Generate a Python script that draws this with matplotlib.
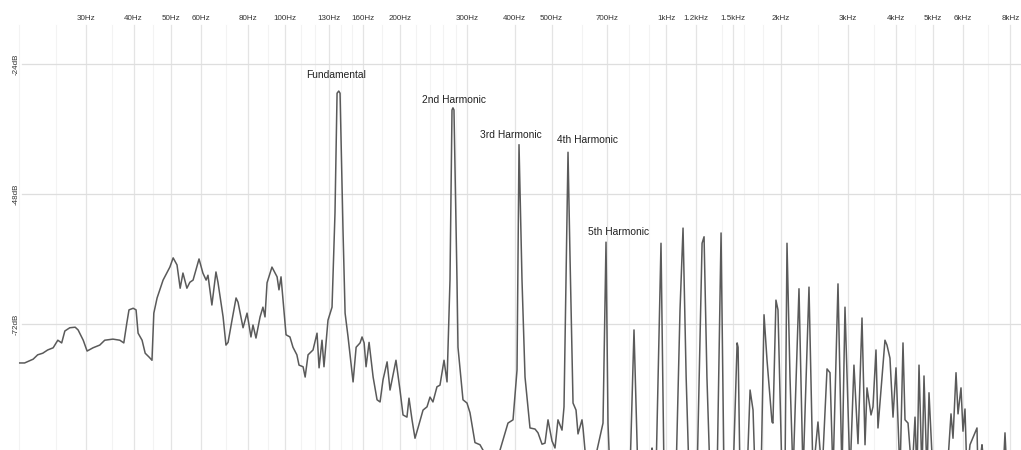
import matplotlib
matplotlib.use('Agg')
import matplotlib.pyplot as plt
from matplotlib.ticker import NullLocator

plt.rcParams['font.family'] = ['Liberation Sans', 'DejaVu Sans']

# spectrum: frequency (Hz) and level (dB)
spectrum_hz = [20.1, 20.7, 21.8, 22.4, 23.1, 23.8, 24.6, 25.3, 25.9, 26.4,
               27.2, 28.1, 28.6, 29.5, 30.2, 31.3, 32.6, 33.6, 35.3, 36.8,
               37.7, 38.4, 38.9, 39.9, 40.6, 41.1, 42.1, 42.9, 43.9, 44.7,
               45.2, 46.1, 47.8, 49.8, 50.8, 52.0, 53.0, 53.9, 55.2, 56.2,
               57.3, 59.4, 60.8, 62.0, 62.7, 64.2, 65.8, 66.6, 68.7, 69.9,
               70.8, 72.5, 74.3, 75.2, 77.5, 79.4, 81.3, 82.3, 83.8, 85.9,
               87.4, 88.5, 89.6, 92.3, 95.2, 96.3, 97.5, 100.5, 102.9, 104.8,
               107.3, 108.7, 111.4, 112.8, 114.8, 118.3, 121.2, 122.7, 124.9, 126.4,
               129.5, 132.7, 135.1, 136.8, 138.2, 139.3, 141.8, 143.6, 146.2, 150.7,
               153.5, 157.2, 159.1, 161.1, 163.0, 166.0, 170.1, 174.2, 177.4, 180.6,
               185.1, 188.4, 195.3, 200.1, 203.8, 208.7, 211.3, 215.2, 219.1, 223.1,
               230.0, 235.6, 239.9, 244.2, 250.2, 254.8, 261.1, 265.9, 270.7, 274.0,
               275.6, 277.3, 282.4, 284.1, 292.8, 300.0, 305.5, 314.8, 324.5, 330.5,
               345, 366.2, 384.3, 396.2, 405.9, 410.8, 418.3, 426.0, 439.0, 452.5,
               460.8, 472.1, 480.7, 489.5, 501.4, 510.6, 519.9, 532.7, 539.2, 552.4,
               559.1, 569.4, 579.8, 586.8, 601.1, 604.8, 612.1, 635, 658.2, 682.5,
               695.0, 703.4, 712.0, 803, 823.1, 843, 900, 918, 940, 969.0,
               987, 1061, 1087, 1107, 1128, 1148, 1205, 1242, 1257, 1279,
               1303, 1360, 1393, 1418, 1498, 1535, 1544, 1562, 1630, 1660,
               1690, 1711, 1774, 1806, 1839, 1895, 1906, 1941, 1965, 2013,
               2050, 2075, 2113, 2152, 2231, 2286, 2370, 2428, 2502, 2564,
               2643, 2691, 2740, 2824, 2893, 2946, 3037, 3110, 3187, 3265,
               3325, 3365, 3448, 3489, 3553, 3596, 3751, 3797, 3866, 3938,
               4010, 4108, 4183, 4234, 4312, 4417, 4498, 4552, 4608, 4692,
               4749, 4836, 4895, 5014, 5458, 5591, 5659, 5763, 5833, 5939,
               6011, 6084, 6158, 6271, 6542, 6582, 6743, 6866, 7655, 7748,
               7842, 8600]
spectrum_db = [-79.2, -79.2, -78.5, -77.7, -77.4, -76.8, -76.4, -75.0, -75.5, -73.3,
               -72.7, -72.6, -73.1, -75.0, -77.0, -76.4, -75.9, -75.0, -74.8, -75.0,
               -75.5, -71.8, -69.4, -69.1, -69.4, -73.7, -75.0, -77.4, -78.1, -78.7,
               -70.0, -67.2, -63.9, -61.5, -59.8, -61.1, -65.4, -62.6, -65.4, -64.3,
               -63.9, -60.0, -62.6, -63.9, -63.0, -68.5, -62.4, -64.3, -70.7, -75.9,
               -75.4, -71.3, -67.2, -68.0, -72.7, -70.0, -74.4, -72.2, -74.6, -70.7,
               -68.9, -70.7, -64.4, -61.5, -63.3, -65.7, -63.3, -74.0, -74.4, -76.3,
               -77.7, -79.6, -79.9, -81.8, -77.7, -76.8, -73.7, -80.1, -75.0, -79.9,
               -71.3, -68.9, -51.5, -29.4, -29.0, -29.4, -54.7, -70.0, -74.4, -82.7,
               -76.3, -75.5, -74.4, -75.5, -79.9, -75.4, -81.8, -86.0, -86.4, -82.3,
               -79.0, -84.2, -78.7, -84.2, -88.8, -89.2, -85.7, -89.7, -93.1, -91.2,
               -87.9, -87.3, -85.5, -86.4, -83.6, -83.3, -78.7, -82.7, -63.9, -32.5,
               -32.1, -32.5, -63.9, -76.3, -86.0, -86.6, -88.4, -93.9, -94.3, -95.3,
               -100, -95.3, -90.3, -89.7, -80.5, -38.9, -63.9, -81.8, -91.2, -91.4,
               -92.1, -94.2, -94.0, -89.7, -93.6, -94.9, -89.7, -91.6, -87.3, -40.3,
               -59.6, -86.6, -87.9, -92.3, -89.7, -91.2, -95.3, -100, -95.3, -90.3,
               -56.9, -90.3, -100, -100, -73.1, -100, -100, -94.9, -100, -57.1,
               -100, -100, -69.4, -54.3, -81.8, -100, -100, -57.1, -55.9, -81.8,
               -100, -100, -55.2, -100, -100, -75.5, -76.3, -100, -100, -84.2,
               -87.9, -100, -100, -70.3, -78.7, -90.1, -90.3, -67.6, -69.4, -100,
               -100, -57.1, -81.8, -100, -65.5, -100, -65.2, -100, -90.1, -100,
               -80.3, -81.0, -100, -64.6, -100, -68.9, -100, -79.6, -94.1, -70.9,
               -94.3, -83.8, -88.8, -87.3, -76.8, -91.2, -75.0, -75.9, -78.3, -89.2,
               -80.1, -100, -75.5, -89.7, -90.3, -100, -89.2, -100, -79.6, -100,
               -81.6, -100, -84.7, -100, -100, -88.6, -93.1, -81.0, -88.6, -83.8,
               -91.8, -87.7, -100, -94.3, -91.2, -100, -94.3, -100, -100, -92.1,
               -100, -100]

tick_hz = [30, 40, 50, 60, 80, 100, 130, 160, 200, 300, 400, 500, 700,
           1000, 1200, 1500, 2000, 3000, 4000, 5000, 6000, 8000]
tick_labels = ['30Hz', '40Hz', '50Hz', '60Hz', '80Hz', '100Hz', '130Hz', '160Hz',
               '200Hz', '300Hz', '400Hz', '500Hz', '700Hz', '1kHz', '1.2kHz',
               '1.5kHz', '2kHz', '3kHz', '4kHz', '5kHz', '6kHz', '8kHz']
minor_hz = [20, 25, 35, 45, 70, 90, 110, 120, 140, 150, 180, 220, 240, 260, 280,
            600, 800, 900, 1400, 1600, 1800, 2500, 3500, 4500, 7000]
db_ticks = [-24, -48, -72]
db_labels = ['-24dB', '-48dB', '-72dB']

label_text = ['Fundamental', '2nd Harmonic', '3rd Harmonic', '4th Harmonic', '5th Harmonic']
label_hz = [136, 277, 391, 623, 752]
label_db = [-26.0, -30.6, -37.1, -38.0, -55.0]

fig = plt.figure(figsize=(10.21, 4.5), dpi=100)
ax = fig.add_axes([0, 0, 1, 1])
ax.set_xscale('log')
ax.set_xlim(17.84, 8535)
ax.set_ylim(-95.27, -12.19)
for s in ax.spines.values():
    s.set_visible(False)

for f in minor_hz:
    ax.axvline(f, ymin=0, ymax=0.945, color='#f3f3f3', lw=0.8, zorder=0)
for f in tick_hz:
    ax.axvline(f, ymin=0, ymax=0.945, color='#e4e4e4', lw=0.9, zorder=0)
for d in db_ticks:
    ax.axhline(d, xmin=0.022, xmax=1, color='#dedede', lw=0.9, zorder=0)

ax.plot(spectrum_hz, spectrum_db, color='#5a5a5a', lw=1.1, zorder=2)

ax.set_xticks(tick_hz)
ax.set_xticklabels(tick_labels)
ax.xaxis.set_minor_locator(NullLocator())
ax.tick_params(axis='x', which='both', top=True, bottom=False, labeltop=True,
               labelbottom=False, length=0, pad=-16, labelsize=5.8, labelcolor='#333333')

ax.set_yticks(db_ticks)
ax.set_yticklabels(db_labels)
ax.tick_params(axis='y', length=0, pad=-14, labelsize=5.8, labelrotation=90,
               labelcolor='#333333')
for lab in ax.get_yticklabels():
    lab.set_va('center')

for t, f, d in zip(label_text, label_hz, label_db):
    ax.text(f, d, t, ha='center', va='center', fontsize=7.4, color='#222222')

fig.savefig('out.png', dpi=100)
